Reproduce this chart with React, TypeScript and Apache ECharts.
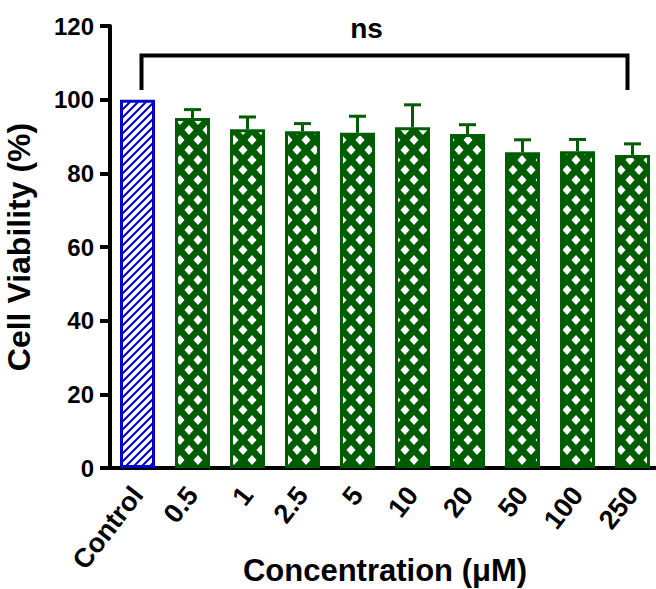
import React, { useEffect, useRef } from 'react';
import * as echarts from 'echarts';

const categories = ['Control', '0.5', '1', '2.5', '5', '10', '20', '50', '100', '250'];
const viability = [100, 95.0, 92.0, 91.4, 91.0, 92.5, 90.7, 85.7, 86.0, 85.0];
const sem = [0, 2.3, 3.3, 2.1, 4.5, 6.1, 2.5, 3.4, 3.2, 3.0];
const yTicks = [0, 20, 40, 60, 80, 100, 120];
const bracketFrom = 0;
const bracketTo = 9;
const bracketLevel = 112;
const bracketFoot = 102.6;
const bracketLabel = 'ns';

const BLUE = '#0000CD';
const GREEN = '#005C00';
const FONT = "'Liberation Sans', Arial, sans-serif";

function hatchCanvas(): HTMLCanvasElement {
  const c = document.createElement('canvas');
  c.width = 8;
  c.height = 8;
  const g = c.getContext('2d')!;
  g.fillStyle = '#ffffff';
  g.fillRect(0, 0, 8, 8);
  g.strokeStyle = BLUE;
  g.lineWidth = 2;
  for (const off of [-8, 0, 8]) {
    g.beginPath();
    g.moveTo(off - 1, 9);
    g.lineTo(off + 9, -1);
    g.stroke();
  }
  return c;
}

function latticeCanvas(): HTMLCanvasElement {
  const w = 18;
  const h = 20;
  const c = document.createElement('canvas');
  c.width = w;
  c.height = h;
  const g = c.getContext('2d')!;
  g.fillStyle = GREEN;
  g.fillRect(0, 0, w, h);
  g.fillStyle = '#ffffff';
  const hw = 4.5;
  const hh = 5;
  const centres = [
    [w / 2, h / 2],
    [0, 0],
    [w, 0],
    [0, h],
    [w, h],
  ];
  for (const [cx, cy] of centres) {
    g.beginPath();
    g.moveTo(cx, cy - hh);
    g.lineTo(cx + hw, cy);
    g.lineTo(cx, cy + hh);
    g.lineTo(cx - hw, cy);
    g.closePath();
    g.fill();
  }
  return c;
}

export default function App() {
  const ref = useRef<HTMLDivElement>(null);

  useEffect(() => {
    if (!ref.current) return;
    const chart = echarts.init(ref.current, undefined, { renderer: 'svg' });
    const hatch = { image: hatchCanvas(), repeat: 'repeat' } as any;
    const lattice = { image: latticeCanvas(), repeat: 'repeat' } as any;

    const barData = viability.map((v, i) => ({
      value: v,
      itemStyle:
        i === 0
          ? { color: hatch, borderColor: BLUE, borderWidth: 3 }
          : { color: lattice, borderColor: GREEN, borderWidth: 3 },
    }));

    const errData = categories
      .map((_, i) => [i, viability[i], viability[i] + sem[i]])
      .filter((d, i) => sem[i] > 0);

    const option: any = {
      animation: false,
      backgroundColor: '#ffffff',
      grid: {
        left: 110,
        right: -4,
        top: 26,
        bottom: 121,
        containLabel: false,
        outerBoundsMode: 'none',
      },
      xAxis: {
        type: 'category',
        data: categories,
        name: 'Concentration (\u03bcM)',
        nameLocation: 'middle',
        nameGap: 87,
        nameMoveOverlap: false,
        nameTextStyle: { fontFamily: FONT, fontWeight: 'bold', fontSize: 31, color: '#000' },
        axisLine: { lineStyle: { color: '#000', width: 4 } },
        axisTick: { alignWithLabel: true, length: 10, lineStyle: { color: '#000', width: 4 } },
        axisLabel: {
          rotate: 52,
          margin: 22,
          interval: 0,
          fontFamily: FONT,
          fontWeight: 'bold',
          fontSize: 27,
          color: '#000',
        },
        splitLine: { show: false },
      },
      yAxis: {
        type: 'value',
        min: yTicks[0],
        max: yTicks[yTicks.length - 1],
        interval: yTicks[1] - yTicks[0],
        name: 'Cell Viability (%)',
        nameLocation: 'middle',
        nameRotate: 90,
        nameGap: 75,
        nameMoveOverlap: false,
        nameTextStyle: { fontFamily: FONT, fontWeight: 'bold', fontSize: 32, color: '#000' },
        axisLine: { show: true, lineStyle: { color: '#000', width: 4 } },
        axisTick: { show: true, length: 10, lineStyle: { color: '#000', width: 4 } },
        axisLabel: { margin: 16, fontFamily: FONT, fontWeight: 'bold', fontSize: 24, color: '#000' },
        splitLine: { show: false },
      },
      graphic: [
        {
          type: 'line',
          shape: { x1: 100, y1: 468, x2: 112, y2: 468 },
          style: { stroke: '#000', lineWidth: 4 },
          z: 10,
        },
      ],
      series: [
        {
          type: 'bar',
          data: barData,
          barWidth: 35,
          silent: true,
          z: 2,
        },
        {
          type: 'custom',
          silent: true,
          z: 3,
          encode: { x: 0, y: [1, 2] },
          data: errData,
          renderItem: (params: any, api: any) => {
            const base = api.coord([api.value(0), api.value(1)]);
            const top = api.coord([api.value(0), api.value(2)]);
            const style = { stroke: GREEN, lineWidth: 3 };
            return {
              type: 'group',
              children: [
                { type: 'line', shape: { x1: base[0], y1: base[1], x2: base[0], y2: top[1] }, style },
                { type: 'line', shape: { x1: base[0] - 8.5, y1: top[1], x2: base[0] + 8.5, y2: top[1] }, style },
              ],
            };
          },
        },
        {
          type: 'custom',
          silent: true,
          z: 4,
          encode: { x: [0, 1], y: [2, 3] },
          data: [[bracketFrom, bracketTo, bracketLevel, bracketFoot]],
          renderItem: (params: any, api: any) => {
            const a = api.coord([api.value(0), api.value(2)]);
            const b = api.coord([api.value(1), api.value(2)]);
            const footY = api.coord([api.value(0), api.value(3)])[1];
            const xl = a[0] + 4;
            const xr = b[0] - 5;
            return {
              type: 'group',
              children: [
                {
                  type: 'polyline',
                  shape: { points: [[xl, footY], [xl, a[1]], [xr, a[1]], [xr, footY]] },
                  style: { stroke: '#000', lineWidth: 4, fill: 'none', lineJoin: 'miter' },
                },
                {
                  type: 'text',
                  x: (xl + xr) / 2 - 18,
                  y: a[1] - 27,
                  style: {
                    text: bracketLabel,
                    fontFamily: FONT,
                    fontWeight: 'bold',
                    fontSize: 28,
                    fill: '#000',
                    align: 'center',
                    verticalAlign: 'middle',
                  },
                },
              ],
            };
          },
        },
      ],
    };
    chart.setOption(option);
    return () => chart.dispose();
  }, []);

  return (
    <div
      ref={ref}
      style={{ position: 'absolute', left: 0, top: 0, width: 656, height: 589 }}
    />
  );
}
